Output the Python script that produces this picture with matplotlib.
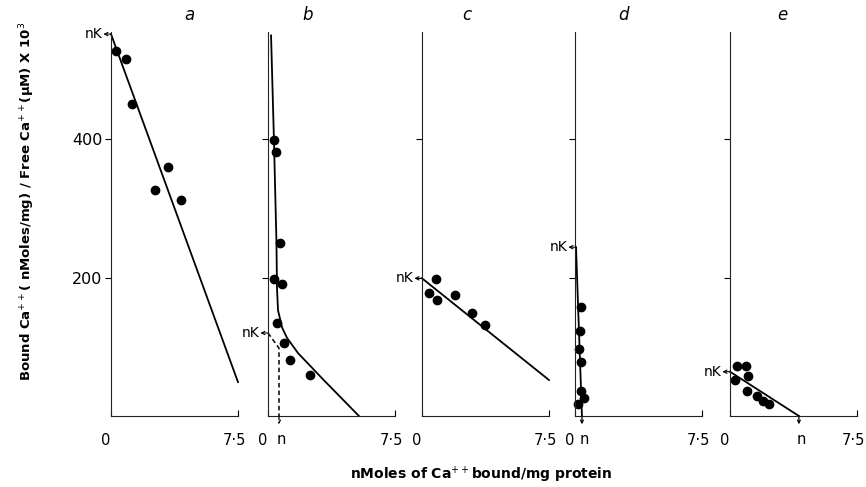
import matplotlib.pyplot as plt
from matplotlib.transforms import ScaledTranslation

# --- data (x: nMoles Ca++ bound/mg, y: bound/free x 10^3) ---
panel_names = ["a", "b", "c", "d", "e"]

a_x = [0.30, 0.89, 1.24, 2.60, 3.36, 4.13]
a_y = [527, 516, 451, 326, 360, 312]
a_line_x = [0, 7.5]
a_line_y = [552, 49]

b_x = [0.35, 0.47, 0.71, 0.35, 0.83, 0.53, 0.94, 1.30, 2.48]
b_y = [399, 381, 250, 198, 191, 134, 105, 81, 59]
b_curve_x = [0.18, 0.35, 0.50, 0.53, 0.59, 0.83, 1.12, 1.77, 3.25, 5.37]
b_curve_y = [550, 400, 250, 186, 153, 128, 113, 91, 53, 0]
b_dash_x = [0, 0.65, 0.65]
b_dash_y = [120, 98, 0]

c_x = [0.83, 0.41, 0.89, 1.95, 2.95, 3.72]
c_y = [198, 178, 168, 175, 149, 131]
c_line_x = [0, 7.5]
c_line_y = [199, 52]

d_x = [0.35, 0.30, 0.24, 0.35, 0.35, 0.53, 0.18]
d_y = [157, 123, 97, 78, 36, 26, 17]
d_line_x = [0.06, 0.41]
d_line_y = [244, 0]

e_x = [0.41, 0.94, 0.30, 1.06, 1.00, 1.59, 1.95, 2.30]
e_y = [72, 72, 52, 58, 36, 29, 22, 17]
e_line_x = [0, 4.07]
e_line_y = [64, 0]

nk_vals = [552, 120, 199, 244, 64]
n_vals = [None, 0.65, None, 0.41, 4.07]

# --- layout (pixels in a 866x487 figure) ---
W, H = 866, 487
lefts = [111, 268, 422, 575, 730]
ax_w, ax_bottom, ax_h = 127, 416, 384
title_pos = [0.62, 0.31, 0.35, 0.38, 0.41]

plt.rcParams['font.family'] = 'DejaVu Sans'
fig = plt.figure(figsize=(W / 100, H / 100), dpi=100)

axes = []
for i, left in enumerate(lefts):
    ax = fig.add_axes([left / W, (H - ax_bottom) / H, ax_w / W, ax_h / H])
    ax.set_xlim(0, 7.5)
    ax.set_ylim(0, 555)
    for s in ['top', 'right']:
        ax.spines[s].set_visible(False)
    for s in ['left', 'bottom']:
        ax.spines[s].set_linewidth(0.8)
        ax.spines[s].set_color('#222222')
    ax.set_xticks([0, 7.5])
    ax.set_xticklabels(['0', '7·5'], fontsize=10.5)
    ax.tick_params(axis='x', direction='in', length=4, pad=12, width=0.8)
    # the zero sits a little left of the axis, the 7.5 a little inside the edge
    lab0, lab75 = ax.get_xticklabels()
    lab0.set_transform(lab0.get_transform() + ScaledTranslation(-0.05, 0, fig.dpi_scale_trans))
    lab75.set_transform(lab75.get_transform() + ScaledTranslation(-0.04, 0, fig.dpi_scale_trans))
    ax.set_yticks([200, 400])
    if i == 0:
        ax.set_yticklabels(['200', '400'], fontsize=11.5)
    else:
        ax.set_yticklabels([])
    ax.tick_params(axis='y', direction='out', length=4, width=0.8, pad=2)
    ax.text(title_pos[i], 1.045, panel_names[i], transform=ax.transAxes,
            fontsize=12, style='italic', ha='center', va='center')
    axes.append(ax)

dot = dict(color='black', marker='o', linestyle='none', markersize=6, clip_on=False)
line = dict(color='black', linewidth=1.3, clip_on=False)

axes[0].plot(a_line_x, a_line_y, **line)
axes[0].plot(a_x, a_y, **dot)

axes[1].plot(b_curve_x, b_curve_y, **line)
axes[1].plot(b_dash_x, b_dash_y, color='black', linewidth=1.1, linestyle=(0, (3, 2)), clip_on=False)
axes[1].plot(b_x, b_y, **dot)

axes[2].plot(c_line_x, c_line_y, **line)
axes[2].plot(c_x, c_y, **dot)

axes[3].plot(d_line_x, d_line_y, **line)
axes[3].plot(d_x, d_y, **dot)

axes[4].plot(e_line_x, e_line_y, **line)
axes[4].plot(e_x, e_y, **dot)

# nK arrows and labels
for i, ax in enumerate(axes):
    nk = nk_vals[i]
    x0 = 0.06 if i == 3 else 0
    ax.annotate('', xy=(x0 - 0.45, nk), xytext=(x0, nk),
                arrowprops=dict(arrowstyle='->', lw=0.8, color='black',
                                shrinkA=0, shrinkB=0, mutation_scale=6),
                annotation_clip=False)
    ax.text(x0 - 0.5, nk, 'nK', fontsize=10, ha='right', va='center')

# n markers below the x axis
for i, ax in enumerate(axes):
    n = n_vals[i]
    if n is None:
        continue
    ax.annotate('', xy=(n, -12), xytext=(n, 0),
                arrowprops=dict(arrowstyle='->', lw=0.9, color='black',
                                shrinkA=0, shrinkB=0, mutation_scale=5,
                                linestyle=(0, (3, 2)) if i == 1 else '-'),
                annotation_clip=False)
    ax.text(n + 0.15, -34, 'n', fontsize=10.5, ha='center', va='center')

fig.text(27 / W, 1 - 201 / H,
         'Bound Ca$^{++}$( nMoles/mg) / Free Ca$^{++}$(μM) X 10$^{3}$',
         rotation=90, fontsize=9.5, fontweight='bold', ha='center', va='center')
fig.text(481 / W, 1 - 475 / H, 'nMoles of Ca$^{++}$bound/mg protein',
         fontsize=10, fontweight='bold', ha='center', va='center')

fig.savefig('out.png', dpi=100)
